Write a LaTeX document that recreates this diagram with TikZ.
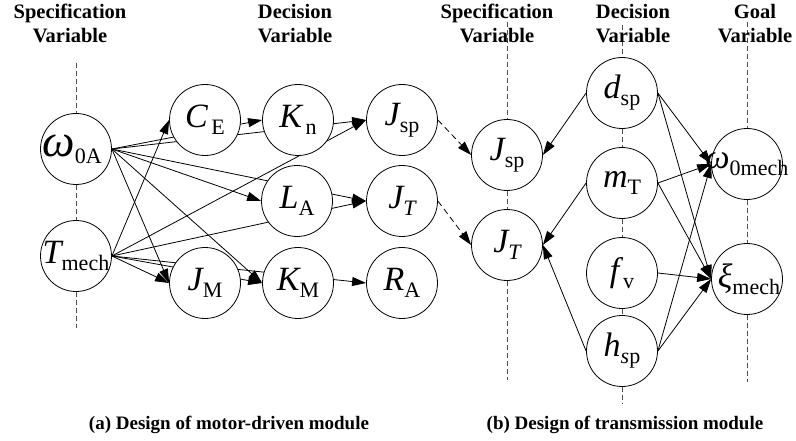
\documentclass[tikz,border=0pt]{standalone}
\usepackage{fontspec}
\setmainfont{Liberation Serif}
\usetikzlibrary{arrows.meta}
\pgfdeclarelayer{bg}
\pgfsetlayers{bg,main}
\newcommand\vv[3][34]{\makebox[0pt][c]{{\fontsize{#1}{#1}\selectfont\itshape #2}\raisebox{-7pt}{\fontsize{22}{22}\selectfont #3}}}
\begin{document}
\begin{tikzpicture}[x=1pt,y=-1pt,
  var/.style={circle,draw,fill=white,minimum size=71pt,inner sep=0pt,line width=0.8pt},
  arr/.style={-{Triangle[length=14pt,width=9pt]},line width=0.8pt},
  darr/.style={arr,dash pattern=on 6pt off 4pt},
  vdash/.style={dash pattern=on 5pt off 3pt,line width=0.8pt,black!70},
  head/.style={font=\fontsize{20.5}{24}\selectfont\bfseries,align=center,anchor=north,inner sep=0pt},
  captext/.style={font=\fontsize{19}{22}\selectfont\bfseries,anchor=base,inner sep=0pt}]
\useasboundingbox (0,0) rectangle (796,441);
% headers
\node[head] (h1) at (70,4) {Specification\\Variable};
\node[head] (h2) at (295,4) {Decision\\Variable};
\node[head] (h3) at (497,4) {Specification\\Variable};
\node[head] (h4) at (633,4) {Decision\\Variable};
\node[head] (h5) at (755,4) {Goal\\Variable};
% captions
\node[captext] (c1) at (229,429) {(a) Design of motor-driven module};
\node[captext] (c2) at (625,429) {(b) Design of transmission module};
% left nodes
\node[var] (w0A) at (76,149) {\hspace*{-8pt}\vv[46]{ω}{0A}};
\node[var] (Tm) at (76,256) {\vv{T}{mech}};
\node[var] (CE) at (205,120) {\vv{C}{\,E}};
\node[var] (Kn) at (298,120) {\vv{K}{\,n}};
\node[var] (Jsp1) at (402,120) {\vv{J}{sp}};
\node[var] (LA) at (297,201) {\vv{L}{A}};
\node[var] (JT1) at (402,201) {\vv{J}{\itshape T}};
\node[var] (JM) at (205,283) {\vv{J}{M}};
\node[var] (KM) at (298,283) {\vv{K}{M}};
\node[var] (RA) at (402,283) {\vv{R}{A}};
% right nodes
\node[var] (Jsp2) at (507,155) {\vv{J}{sp}};
\node[var] (JT2) at (507,245) {\vv{J}{\itshape T}};
\node[var] (dsp) at (622,93) {\vv{d}{sp}};
\node[var] (mT) at (622,183) {\vv{m}{T}};
\node[var] (fv) at (622,273) {\vv{f}{\,v}};
\node[var] (hsp) at (622,351) {\vv{h}{\textit{s}p}};
\node[var] (w0m) at (747,164) {\vv[34]{ω}{0mech}};
\node[var] (xi) at (747,279) {\hspace*{4pt}\vv{ξ}{mech}};
% free ends of dashed guide lines
\coordinate (a0) at (76,63);
\coordinate (a1) at (76,328);
\coordinate (b0) at (507,22);
\coordinate (b1) at (507,380);
\coordinate (d0) at (622,25);
\coordinate (d1) at (622,403);
\coordinate (g0) at (747,22);
\coordinate (g1) at (747,382);
\begin{pgfonlayer}{bg}
\draw[vdash] (a0) -- (w0A.north) (w0A.south) -- (Tm.north) (Tm.south) -- (a1);
\draw[vdash] (b0) -- (Jsp2.north) (Jsp2.south) -- (JT2.north) (JT2.south) -- (b1);
\draw[vdash] (d0) -- (dsp.north) (dsp.south) -- (mT.north) (mT.south) -- (fv.north)
  (fv.south) -- (hsp.north) (hsp.south) -- (d1);
\draw[vdash] (g0) -- (w0m.north) (w0m.south) -- (xi.north) (xi.south) -- (g1);
% left module
\foreach \t in {Kn,Jsp1,LA,JT1,JM,KM} \draw[arr] (w0A.east) -- (\t.west);
\foreach \t in {CE,Jsp1,JT1,JM,KM,RA} \draw[arr] (Tm.east) -- (\t.west);
% transfer
\draw[darr] (Jsp1.east) -- (Jsp2.west);
\draw[darr] (JT1.east) -- (JT2.west);
% right module
\draw[arr] (dsp.west) -- (Jsp2.east);
\draw[arr] (mT.west) -- (JT2.east);
\draw[arr] (hsp.west) -- (JT2.east);
\foreach \s in {dsp,mT,hsp} \draw[arr] (\s.east) -- (w0m.west);
\foreach \s in {dsp,mT,fv,hsp} \draw[arr] (\s.east) -- (xi.west);
\end{pgfonlayer}
\end{tikzpicture}
\end{document}
